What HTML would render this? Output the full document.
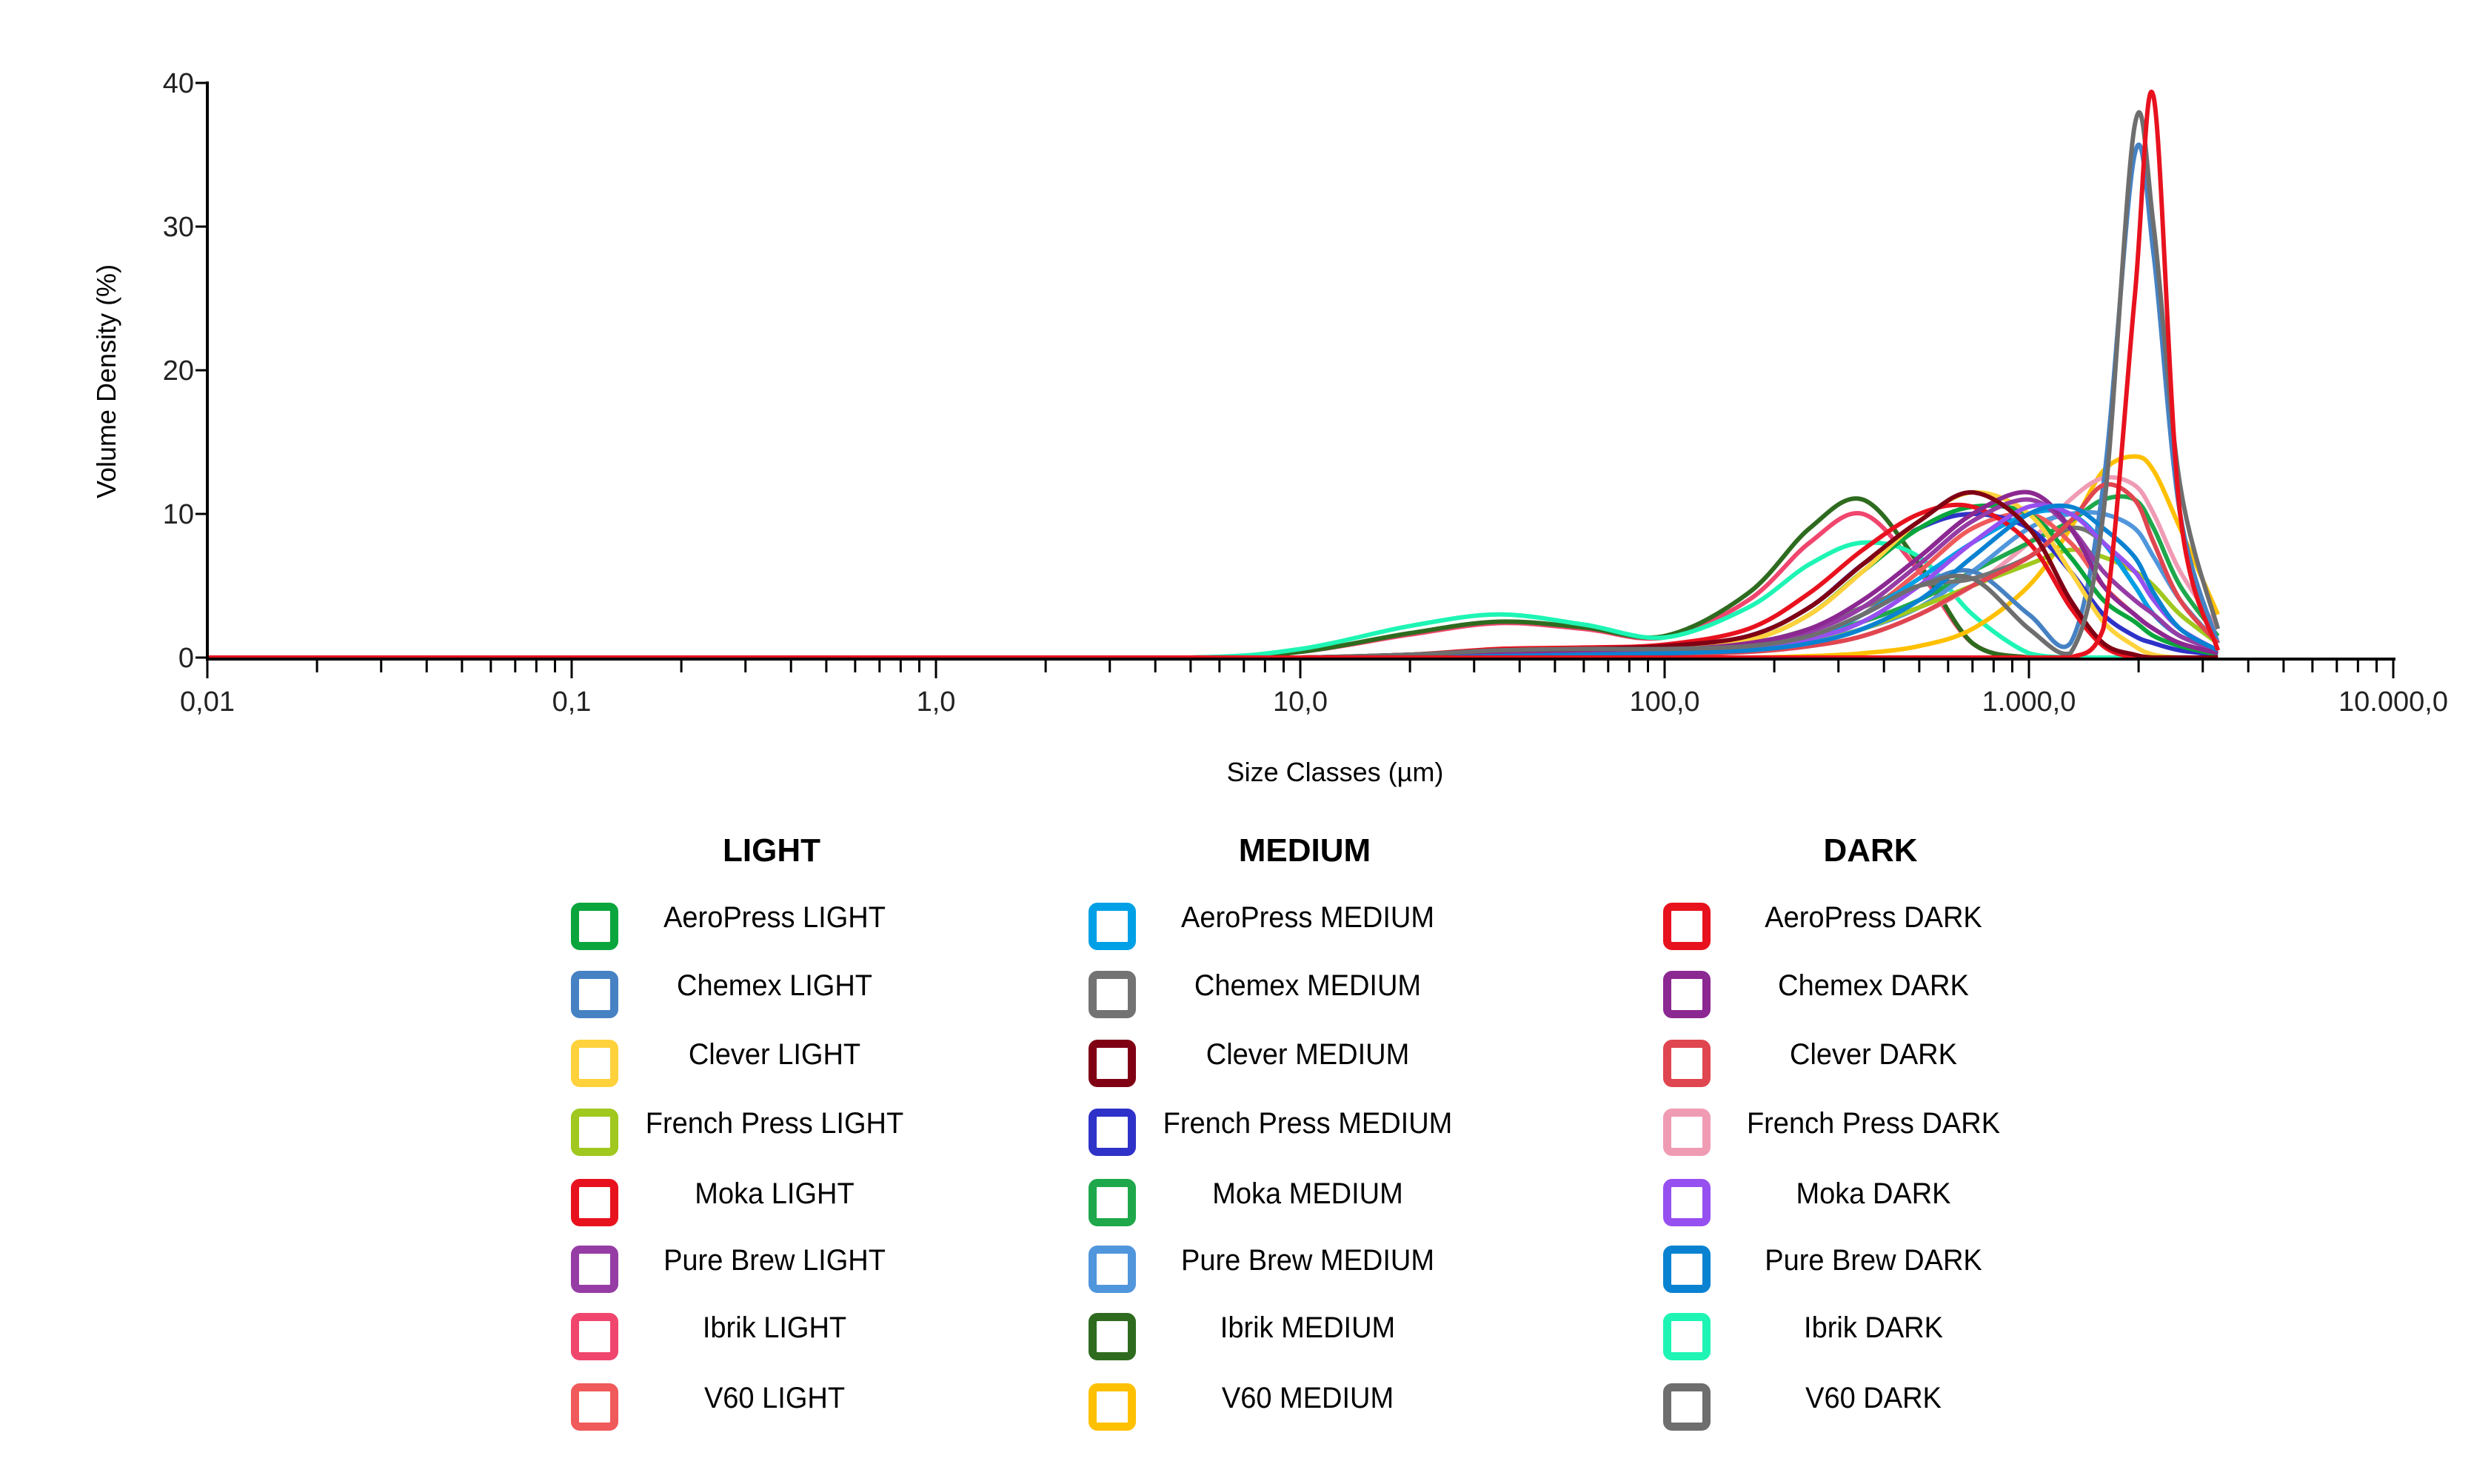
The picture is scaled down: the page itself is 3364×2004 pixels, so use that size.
<!DOCTYPE html>
<html><head><meta charset="utf-8">
<style>
html,body{margin:0;padding:0;background:#fff;}
body{width:3364px;height:2004px;overflow:hidden;position:relative;font-family:"Liberation Sans",sans-serif;}
.sw{position:absolute;width:42px;height:42px;border:11px solid;border-radius:12px;}
.lt{position:absolute;font-size:40px;color:#000;text-align:center;width:520px;transform:translateX(-50%) scaleX(0.95);white-space:nowrap;}
.hd{position:absolute;font-size:44px;font-weight:bold;transform:translateX(-50%);}
</style></head><body>
<svg id="chart" width="3364" height="1100" style="position:absolute;left:0;top:0" xmlns="http://www.w3.org/2000/svg"></svg>
<div id="legend"></div>
<script>
const sizes=[0.01,1,5,10,20,35,60,100,170,250,350,500,700,1000,1300,1600,1950,2200,2600,3300];
const seriesNames=["AeroPress LIGHT","Chemex LIGHT","Clever LIGHT","French Press LIGHT","Moka LIGHT","Pure Brew LIGHT","Ibrik LIGHT","V60 LIGHT",
"AeroPress MEDIUM","Chemex MEDIUM","Clever MEDIUM","French Press MEDIUM","Moka MEDIUM","Pure Brew MEDIUM","Ibrik MEDIUM","V60 MEDIUM",
"AeroPress DARK","Chemex DARK","Clever DARK","French Press DARK","Moka DARK","Pure Brew DARK","Ibrik DARK","V60 DARK"];
const seriesColors=["#0aa53c","#4682c3","#ffd23c","#a0c81e","#e8121e","#963ca5","#f0466e","#f05a5a",
"#00a0e6","#737373","#800014","#2e32c8","#1ea84b","#5096dc","#2e6b1f","#ffc000",
"#e8121e","#8c2891","#e04650","#f09bb4","#9650f0","#0a82d2","#1ef5b4","#6e6e6e"];
const aeroLight=[0,0,0,0,0.1,0.3,0.4,0.6,1.2,3,6,9,10.5,10,7,4,2.5,1.5,0.8,0.2];
const chemexLight=[0,0,0,0,0.1,0.3,0.4,0.5,0.8,1.5,3,5,6,3,1,12,35,28,10,1];
const cleverLight=[0,0,0,0,0.1,0.3,0.4,0.6,1.2,3,6,9.5,11.5,10,6,2.5,0.8,0.2,0,0];
const frenchLight=[0,0,0,0,0,0.1,0.2,0.3,0.5,1,2,3.5,5,6.5,7.5,7,6,5,3,1];
const mokaLight=[0,0,0,0,0.2,0.6,0.7,0.9,2,4.5,7.5,10,10.5,8,3.5,0.8,0,0,0,0];
const pureLight=[0,0,0,0,0,0.2,0.3,0.4,0.8,1.8,3.5,6.5,9.5,11,9,6,4,3,1.5,0.5];
const ibrikLight=[0,0,0,0.4,1.6,2.4,2.0,1.4,4,8,10,6,1,0,0,0,0,0,0,0];
const v60Light=[0,0,0,0,0,0.1,0.2,0.3,0.6,1.5,3,6,9,10,8,5,3,2,1,0.3];
const aeroMed=[0,0,0,0,0,0.1,0.2,0.3,0.6,1.4,3,5.5,8,10,10,8,5,3,1.5,0.5];
const chemexMed=[0,0,0,0,0.2,0.4,0.5,0.6,1,2,3.5,5,5.5,7,9,8,5,3,1.5,0.5];
const cleverMed=[0,0,0,0,0.2,0.5,0.6,0.8,1.5,3.5,6.5,9.5,11.5,9,4,1,0.2,0,0,0];
const frenchMed=[0,0,0,0,0.1,0.4,0.5,0.7,1.5,3.5,6.5,9,10,9,6,3,1.5,1,0.5,0.2];
const mokaMed=[0,0,0,0,0.2,0.4,0.4,0.5,0.8,1.5,2.5,4,6,8,9.5,11,11,9,5,1.5];
const pureMed=[0,0,0,0,0.1,0.3,0.3,0.4,0.7,1.2,2,3.5,6,9,10,10,9,7,4,1];
const ibrikMed=[0,0,0,0.4,1.7,2.5,2.1,1.5,4.5,9,11,6.5,1,0,0,0,0,0,0,0];
const v60Med=[0,0,0,0,0,0,0,0,0,0.1,0.3,0.8,2,5,9,13,14,13,9,3];
const aeroDark=[0,0,0,0,0,0,0,0,0,0,0,0,0,0,0,2,25,39,10,0.5];
const chemexDark=[0,0,0,0,0,0.2,0.3,0.5,1,2,4,7,10,11.5,9,5,3,2,1,0.3];
const cleverDark=[0,0,0,0,0,0,0.1,0.2,0.4,0.8,1.5,3,5,7,9.5,12,11,8,4,1];
const frenchDark=[0,0,0,0,0,0,0.1,0.2,0.4,0.8,1.5,3,5,8,11,12.5,12,10,6,2];
const mokaDark=[0,0,0,0,0,0.1,0.2,0.3,0.6,1.3,2.5,5,8,10.5,10,8,6,4,2,0.5];
const pureDark=[0,0,0,0,0,0.1,0.2,0.3,0.5,1,2,4,7,10,10.5,9,7,4.5,2,0.5];
const ibrikDark=[0,0,0,0.6,2.2,3.0,2.3,1.4,3.5,6.5,8,7,3,0.3,0,0,0,0,0,0];
const v60Dark=[0,0,0,0,0.2,0.5,0.6,0.6,0.8,1.5,3,5,5.5,2,0.3,10,37,30,12,2];
const seriesValues=[aeroLight,chemexLight,cleverLight,frenchLight,mokaLight,pureLight,ibrikLight,v60Light,
aeroMed,chemexMed,cleverMed,frenchMed,mokaMed,pureMed,ibrikMed,v60Med,
aeroDark,chemexDark,cleverDark,frenchDark,mokaDark,pureDark,ibrikDark,v60Dark];
const yTicks=[0,10,20,30,40];
const xTickValues=[0.01,0.1,1,10,100,1000,10000];
const xTickLabels=["0,01","0,1","1,0","10,0","100,0","1.000,0","10.000,0"];

const NS="http://www.w3.org/2000/svg";
const svg=document.getElementById('chart');
const X0=280,DEC=492,Y0=888,Y40=112;
function xs(v){return X0+(Math.log10(v)+2)*DEC;}
function ys(v){return Y0-(v/40)*(Y0-Y40);}
function mk(tag,attrs){const e=document.createElementNS(NS,tag);for(const k in attrs)e.setAttribute(k,attrs[k]);svg.appendChild(e);return e;}

const drawOrder=[6,14,22,15,19,12,13,3,7,1,11,9,8,0,2,4,5,17,18,20,21,10,23,16];
drawOrder.forEach(si=>{
  const vals=seriesValues[si];
  const pts=sizes.map((s,i)=>[xs(s),ys(vals[i])]);
  let d="M"+pts[0][0]+","+pts[0][1];
  for(let i=0;i<pts.length-1;i++){
    const p0=pts[Math.max(0,i-1)],p1=pts[i],p2=pts[i+1],p3=pts[Math.min(pts.length-1,i+2)];
    const c1x=p1[0]+(p2[0]-p0[0])/6,c2x=p2[0]-(p3[0]-p1[0])/6;
    let c1y=p1[1]+(p2[1]-p0[1])/6,c2y=p2[1]-(p3[1]-p1[1])/6;
    c1y=Math.min(c1y,Y0);c2y=Math.min(c2y,Y0);
    d+=" C"+c1x+","+c1y+" "+c2x+","+c2y+" "+p2[0]+","+p2[1];
  }
  const p=mk('path',{d:d,fill:'none',stroke:seriesColors[si],'stroke-width':6,'stroke-linejoin':'round'});
  
  
});

const ya=mk('line',{x1:X0,y1:Y40-2,x2:X0,y2:Y0+4,stroke:'#000','stroke-width':4});


const xa=mk('line',{x1:X0,y1:Y0+2,x2:X0+6*DEC+3,y2:Y0+2,stroke:'#000','stroke-width':4});


yTicks.forEach(t=>{
  mk('line',{x1:X0-16,y1:ys(t),x2:X0,y2:ys(t),stroke:'#000','stroke-width':3});
  const tx=mk('text',{x:X0-18,y:ys(t)+13,'text-anchor':'end','font-size':38,fill:'#222'});
  tx.textContent=t;
  
  
});
for(let e=-2;e<4;e++){
  for(let m=2;m<10;m++){
    const x=xs(m*Math.pow(10,e));
    mk('line',{x1:x,y1:Y0+2,x2:x,y2:Y0+20,stroke:'#000','stroke-width':3});
  }
}
xTickValues.forEach((v,i)=>{
  const x=xs(v);
  mk('line',{x1:x,y1:Y0+2,x2:x,y2:Y0+28,stroke:'#000','stroke-width':3});
  const tx=mk('text',{x:x,y:Y0+72,'text-anchor':'middle','font-size':38,fill:'#222'});
  tx.textContent=xTickLabels[i];
  
  
});
const xt=mk('text',{x:1803,y:1055,'text-anchor':'middle','font-size':36,fill:'#000'});
xt.textContent="Size Classes (µm)";


const yt=mk('text',{x:0,y:0,'text-anchor':'middle','font-size':36,fill:'#000',transform:'translate(156,515) rotate(-90)'});
yt.textContent="Volume Density (%)";



const leg=document.getElementById('legend');
const heads=["LIGHT","MEDIUM","DARK"];
const colIcon=[803,1502,2278];
const colText=[1046,1766,2530];
const rowY=[1251,1343,1436,1529,1624,1714,1805,1900];
heads.forEach((h,c)=>{
  const d=document.createElement('div');
  d.className='hd';d.style.left=colText[c]-4+'px';d.style.top='1124px';d.textContent=h;
  
  
  leg.appendChild(d);
});
seriesNames.forEach((n,i)=>{
  const c=Math.floor(i/8),r=i%8;
  const s=document.createElement('div');
  s.className='sw';s.style.borderColor=seriesColors[i];
  s.style.left=(colIcon[c]-32)+'px';s.style.top=(rowY[r]-32)+'px';
  
  
  leg.appendChild(s);
  const t=document.createElement('div');
  t.className='lt';t.style.left=colText[c]+'px';t.style.top=(rowY[r]-34)+'px';t.textContent=n;
  
  
  leg.appendChild(t);
});
</script>
</body></html>
